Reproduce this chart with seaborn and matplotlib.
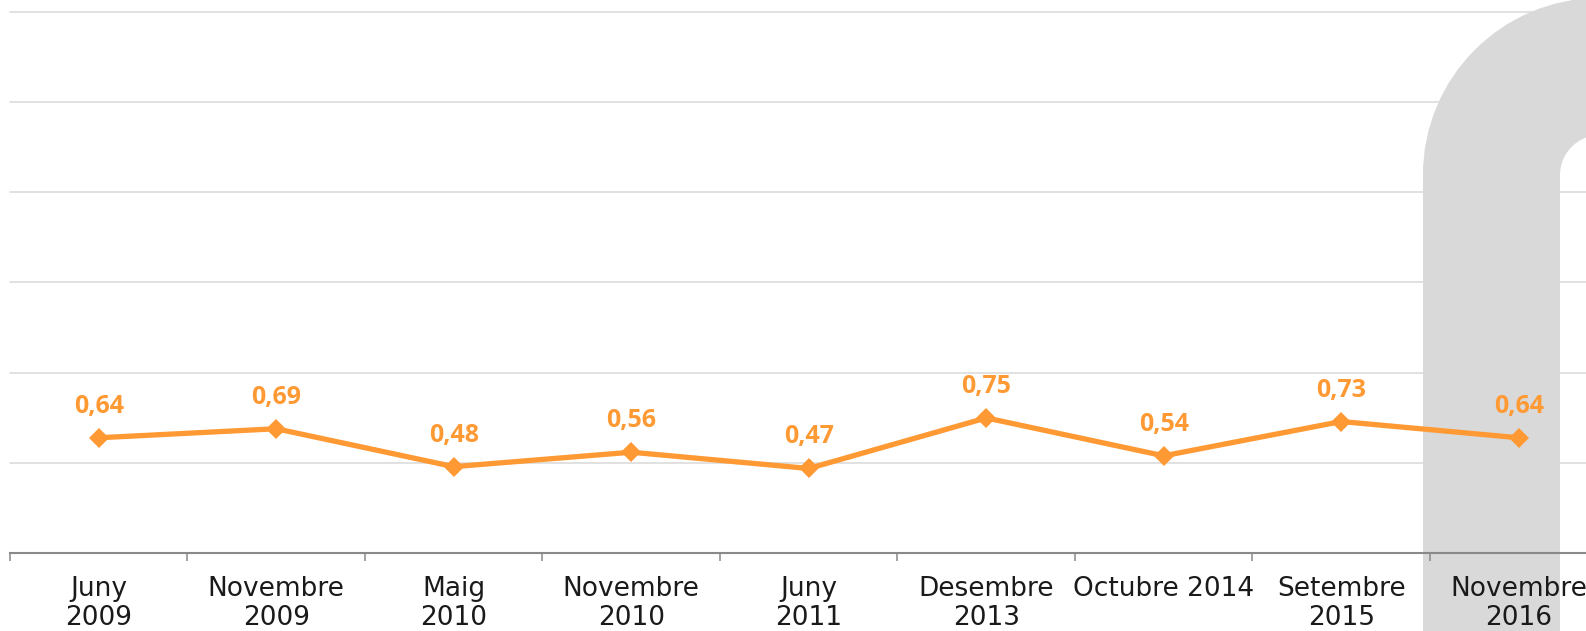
import matplotlib.pyplot as plt
import seaborn as sns
from matplotlib.path import Path
from matplotlib.patches import PathPatch

# chart data
periods = ["Juny\n2009", "Novembre\n2009", "Maig\n2010", "Novembre\n2010", "Juny\n2011",
           "Desembre\n2013", "Octubre 2014", "Setembre\n2015", "Novembre\n2016"]
values = [0.64, 0.69, 0.48, 0.56, 0.47, 0.75, 0.54, 0.73, 0.64]
grid_ticks = [0.5, 1.0, 1.5, 2.0, 2.5, 3.0]

ORANGE = "#ff9933"
GRID = "#d9d9d9"

sns.set_style("white")

fig = plt.figure(figsize=(15.86, 6.31), dpi=100)
# axes runs past the right edge, like the cropped original
ax = fig.add_axes([10 / 1586, 0.1231, 1597.5 / 1586, 0.8584])

x = list(range(len(values)))
sns.lineplot(x=x, y=values, ax=ax, color=ORANGE, linewidth=3.8, marker="D",
             markersize=10, markeredgewidth=0, zorder=3)

ax.set_xlim(-0.5, len(values) - 0.5)
ax.set_ylim(0, 3.0)

# gridlines drawn by hand so the grey band can sit above them
for g in grid_ticks:
    ax.axhline(g, color=GRID, linewidth=1.1, zorder=0.5, clip_on=False)
ax.set_yticks([])

for s in ["left", "right", "top"]:
    ax.spines[s].set_visible(False)
ax.spines["bottom"].set_color("#898989")
ax.spines["bottom"].set_linewidth(1.5)
ax.set_axisbelow(False)

ax.set_xticks(x)
ax.set_xticklabels(periods, fontsize=19, color="#1a1a1a", va="top", linespacing=1.15)
ax.set_xticks([i - 0.5 for i in range(len(values) + 1)], minor=True)
ax.tick_params(axis="x", which="major", bottom=False, length=0, pad=16)
ax.tick_params(axis="x", which="minor", bottom=True, length=6, width=1.1, color="#898989")
ax.set_xlabel("")
ax.set_ylabel("")

for xi, v in zip(x, values):
    ax.annotate(f"{v:.2f}".replace(".", ","), (xi, v), xytext=(0, 18),
                textcoords="offset points", ha="center", va="baseline",
                fontsize=18, color=ORANGE, fontweight="bold",
                family=["Open Sans", "DejaVu Sans"], zorder=4)

# decorative grey band on the right (background of the original slide)
W, H = 1586.0, 631.0
cx, ytop, r = 1491.5, 631 - 175, 108.5
k = 0.5523 * r
verts = [(cx, -20), (cx, ytop), (cx, ytop + k), (cx + r - k, ytop + r),
         (cx + r, ytop + r), (1700, ytop + r)]
codes = [Path.MOVETO, Path.LINETO, Path.CURVE4, Path.CURVE4, Path.CURVE4, Path.LINETO]
band = Path([(a / W, b / H) for a, b in verts], codes)
ax.add_patch(PathPatch(band, facecolor="none", edgecolor="#d9d9d9",
                       linewidth=137 * 72 / 100, capstyle="butt",
                       transform=fig.transFigure, clip_on=False, zorder=1))

plt.savefig("out.png", dpi=100)
